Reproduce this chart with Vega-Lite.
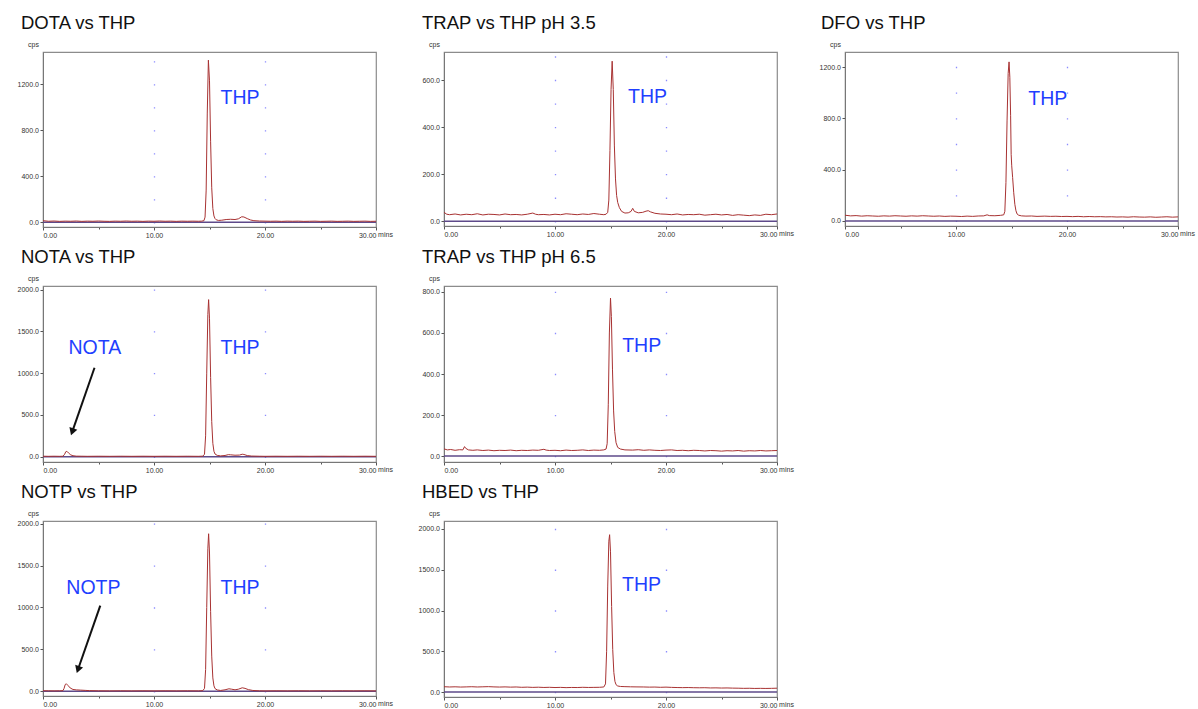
{
  "$schema": "https://vega.github.io/schema/vega-lite/v6.json",
  "autosize": {"type": "pad"},
  "padding": {"left": 16, "top": 12, "right": 5, "bottom": 0},
  "background": "white",
  "config": {
    "font": "Liberation Sans",
    "view": {"stroke": "#8c8c8c", "strokeWidth": 1.2},
    "title": {"font": "Liberation Sans", "fontSize": 18.5, "fontWeight": "normal", "color": "#111111", "anchor": "start", "frame": "group", "dx": -22, "offset": 8},
    "axis": {"labelFont": "Liberation Sans", "labelFontSize": 7, "labelColor": "#333333", "domainColor": "#777777", "tickColor": "#555555", "titleFont": "Liberation Sans", "titleFontSize": 7, "titleFontWeight": "normal", "titleColor": "#333333", "labelOverlap": false, "grid": false},
    "axisX": {"values": [0,1,2,3,4,5,6,7,8,9,10,11,12,13,14,15,16,17,18,19,20,21,22,23,24,25,26,27,28,29,30], "labelExpr": "datum.value % 10 === 0 ? format(datum.value, '.2f') : ''", "labelPadding": 1, "titleX": 342, "titleY": 7, "titleAlign": "center", "titleBaseline": "middle", "gridColor": "#7f7fff", "gridWidth": 1.3},
    "axisY": {"titleAngle": 0, "titleX": -10, "titleY": -8, "titleAlign": "center", "titleBaseline": "middle", "labelPadding": 1.5, "tickSize": 3, "format": ".1f"}
  },
  "datasets": {
    "dota": [
      {"t":0,"cps":14},{"t":0.5,"cps":9},{"t":1,"cps":11},{"t":1.5,"cps":8},{"t":2,"cps":10},{"t":2.5,"cps":9},{"t":3,"cps":11},{"t":3.5,"cps":8},{"t":4,"cps":10},{"t":4.5,"cps":9},{"t":5,"cps":11},{"t":5.5,"cps":9},{"t":6,"cps":8},{"t":6.5,"cps":10},{"t":7,"cps":9},{"t":7.5,"cps":11},{"t":8,"cps":9},{"t":8.5,"cps":10},{"t":9,"cps":8},{"t":9.5,"cps":10},{"t":10,"cps":9},{"t":10.5,"cps":11},{"t":11,"cps":9},{"t":11.5,"cps":10},{"t":12,"cps":8},{"t":12.5,"cps":10},{"t":13,"cps":9},{"t":13.5,"cps":10},{"t":14,"cps":9},{"t":14.3,"cps":10},{"t":14.5,"cps":14},{"t":14.6,"cps":45},{"t":14.7,"cps":280},{"t":14.8,"cps":950},{"t":14.9,"cps":1410},{"t":15.0,"cps":1230},{"t":15.1,"cps":700},{"t":15.2,"cps":300},{"t":15.3,"cps":120},{"t":15.4,"cps":55},{"t":15.5,"cps":32},{"t":15.6,"cps":22},{"t":15.8,"cps":16},{"t":16.1,"cps":18},{"t":16.5,"cps":24},{"t":16.9,"cps":26},{"t":17.3,"cps":24},{"t":17.6,"cps":30},{"t":17.9,"cps":48},{"t":18.1,"cps":46},{"t":18.4,"cps":32},{"t":18.7,"cps":20},{"t":19.0,"cps":14},{"t":19.5,"cps":11},{"t":20,"cps":10},{"t":20.5,"cps":9},{"t":21,"cps":10},{"t":21.5,"cps":8},{"t":22,"cps":10},{"t":22.5,"cps":9},{"t":23,"cps":10},{"t":23.5,"cps":8},{"t":24,"cps":9},{"t":24.5,"cps":10},{"t":25,"cps":8},{"t":25.5,"cps":9},{"t":26,"cps":10},{"t":26.5,"cps":8},{"t":27,"cps":9},{"t":27.5,"cps":10},{"t":28,"cps":8},{"t":28.5,"cps":9},{"t":29,"cps":10},{"t":29.5,"cps":8},{"t":30,"cps":9}
    ],
    "trap35": [
      {"t":0,"cps":38},{"t":0.25,"cps":30},{"t":0.5,"cps":28},{"t":1,"cps":31},{"t":1.5,"cps":27},{"t":2,"cps":30},{"t":2.5,"cps":28},{"t":3,"cps":32},{"t":3.5,"cps":27},{"t":4,"cps":30},{"t":4.5,"cps":29},{"t":5,"cps":27},{"t":5.5,"cps":31},{"t":6,"cps":28},{"t":6.5,"cps":29},{"t":7,"cps":27},{"t":7.5,"cps":30},{"t":8,"cps":35},{"t":8.25,"cps":30},{"t":8.5,"cps":28},{"t":9,"cps":29},{"t":9.5,"cps":27},{"t":10,"cps":30},{"t":10.5,"cps":28},{"t":11,"cps":32},{"t":11.5,"cps":30},{"t":12,"cps":28},{"t":12.5,"cps":31},{"t":13,"cps":29},{"t":13.5,"cps":33},{"t":14,"cps":30},{"t":14.4,"cps":28},{"t":14.6,"cps":30},{"t":14.75,"cps":38},{"t":14.85,"cps":90},{"t":14.95,"cps":300},{"t":15.05,"cps":560},{"t":15.15,"cps":680},{"t":15.25,"cps":560},{"t":15.35,"cps":320},{"t":15.45,"cps":180},{"t":15.55,"cps":110},{"t":15.65,"cps":80},{"t":15.8,"cps":58},{"t":16.0,"cps":42},{"t":16.3,"cps":35},{"t":16.6,"cps":36},{"t":16.85,"cps":42},{"t":17.0,"cps":55},{"t":17.15,"cps":42},{"t":17.5,"cps":36},{"t":17.9,"cps":38},{"t":18.2,"cps":43},{"t":18.4,"cps":45},{"t":18.6,"cps":40},{"t":19.0,"cps":34},{"t":19.5,"cps":31},{"t":20,"cps":30},{"t":20.5,"cps":28},{"t":21,"cps":31},{"t":21.5,"cps":27},{"t":22,"cps":29},{"t":22.5,"cps":28},{"t":23,"cps":30},{"t":23.5,"cps":26},{"t":24,"cps":28},{"t":24.5,"cps":30},{"t":25,"cps":27},{"t":25.5,"cps":29},{"t":26,"cps":25},{"t":26.5,"cps":28},{"t":27,"cps":26},{"t":27.5,"cps":24},{"t":28,"cps":27},{"t":28.5,"cps":25},{"t":29,"cps":30},{"t":29.5,"cps":28},{"t":30,"cps":31}
    ],
    "dfo": [
      {"t":0,"cps":45},{"t":0.5,"cps":40},{"t":1,"cps":42},{"t":1.5,"cps":38},{"t":2,"cps":41},{"t":2.5,"cps":39},{"t":3,"cps":37},{"t":3.5,"cps":40},{"t":4,"cps":38},{"t":4.5,"cps":41},{"t":5,"cps":39},{"t":5.5,"cps":37},{"t":6,"cps":40},{"t":6.5,"cps":38},{"t":7,"cps":41},{"t":7.5,"cps":39},{"t":8,"cps":37},{"t":8.5,"cps":39},{"t":9,"cps":36},{"t":9.5,"cps":38},{"t":10,"cps":37},{"t":10.5,"cps":35},{"t":11,"cps":38},{"t":11.5,"cps":36},{"t":12,"cps":39},{"t":12.5,"cps":40},{"t":12.8,"cps":48},{"t":13.0,"cps":42},{"t":13.5,"cps":41},{"t":14.0,"cps":44},{"t":14.3,"cps":48},{"t":14.4,"cps":75},{"t":14.5,"cps":300},{"t":14.6,"cps":780},{"t":14.7,"cps":1150},{"t":14.78,"cps":1240},{"t":14.85,"cps":1120},{"t":14.92,"cps":820},{"t":14.97,"cps":520},{"t":15.02,"cps":430},{"t":15.1,"cps":340},{"t":15.2,"cps":220},{"t":15.3,"cps":130},{"t":15.4,"cps":80},{"t":15.5,"cps":55},{"t":15.65,"cps":45},{"t":15.9,"cps":40},{"t":16.3,"cps":38},{"t":16.8,"cps":39},{"t":17.3,"cps":36},{"t":18,"cps":38},{"t":18.5,"cps":36},{"t":19,"cps":37},{"t":19.5,"cps":35},{"t":20,"cps":36},{"t":20.5,"cps":34},{"t":21,"cps":36},{"t":21.5,"cps":33},{"t":22,"cps":35},{"t":22.5,"cps":33},{"t":23,"cps":34},{"t":23.5,"cps":32},{"t":24,"cps":33},{"t":24.5,"cps":31},{"t":25,"cps":32},{"t":25.5,"cps":30},{"t":26,"cps":33},{"t":26.5,"cps":31},{"t":27,"cps":30},{"t":27.5,"cps":32},{"t":28,"cps":29},{"t":28.5,"cps":31},{"t":29,"cps":33},{"t":29.5,"cps":30},{"t":30,"cps":32}
    ],
    "nota": [
      {"t":0,"cps":6},{"t":0.5,"cps":5},{"t":1,"cps":6},{"t":1.5,"cps":5},{"t":1.8,"cps":6},{"t":1.95,"cps":30},{"t":2.05,"cps":60},{"t":2.15,"cps":65},{"t":2.3,"cps":45},{"t":2.5,"cps":22},{"t":2.7,"cps":12},{"t":3.0,"cps":7},{"t":3.5,"cps":6},{"t":4,"cps":5},{"t":5,"cps":6},{"t":6,"cps":5},{"t":7,"cps":6},{"t":8,"cps":5},{"t":9,"cps":6},{"t":10,"cps":5},{"t":11,"cps":6},{"t":12,"cps":5},{"t":13,"cps":6},{"t":14,"cps":5},{"t":14.4,"cps":7},{"t":14.55,"cps":30},{"t":14.65,"cps":250},{"t":14.75,"cps":1000},{"t":14.85,"cps":1700},{"t":14.92,"cps":1880},{"t":15.0,"cps":1650},{"t":15.1,"cps":950},{"t":15.2,"cps":420},{"t":15.3,"cps":160},{"t":15.4,"cps":65},{"t":15.5,"cps":32},{"t":15.7,"cps":16},{"t":16.0,"cps":10},{"t":16.4,"cps":15},{"t":16.7,"cps":25},{"t":16.9,"cps":23},{"t":17.3,"cps":18},{"t":17.7,"cps":20},{"t":17.95,"cps":30},{"t":18.1,"cps":27},{"t":18.4,"cps":14},{"t":18.8,"cps":8},{"t":19.5,"cps":6},{"t":20,"cps":5},{"t":21,"cps":6},{"t":22,"cps":5},{"t":23,"cps":6},{"t":24,"cps":5},{"t":25,"cps":6},{"t":26,"cps":5},{"t":27,"cps":6},{"t":28,"cps":5},{"t":29,"cps":6},{"t":30,"cps":5}
    ],
    "notp": [
      {"t":0,"cps":7},{"t":0.5,"cps":6},{"t":1,"cps":5},{"t":1.5,"cps":6},{"t":1.8,"cps":8},{"t":1.9,"cps":35},{"t":2.0,"cps":80},{"t":2.1,"cps":90},{"t":2.25,"cps":70},{"t":2.45,"cps":40},{"t":2.7,"cps":22},{"t":3.0,"cps":17},{"t":3.4,"cps":14},{"t":3.8,"cps":11},{"t":4.2,"cps":8},{"t":5,"cps":6},{"t":6,"cps":5},{"t":7,"cps":6},{"t":8,"cps":5},{"t":9,"cps":6},{"t":10,"cps":5},{"t":11,"cps":6},{"t":12,"cps":5},{"t":13,"cps":6},{"t":14,"cps":5},{"t":14.4,"cps":8},{"t":14.55,"cps":35},{"t":14.65,"cps":260},{"t":14.75,"cps":1000},{"t":14.85,"cps":1700},{"t":14.92,"cps":1880},{"t":15.0,"cps":1650},{"t":15.1,"cps":950},{"t":15.2,"cps":420},{"t":15.3,"cps":160},{"t":15.4,"cps":65},{"t":15.5,"cps":32},{"t":15.7,"cps":16},{"t":16.0,"cps":10},{"t":16.4,"cps":18},{"t":16.75,"cps":30},{"t":17.0,"cps":25},{"t":17.3,"cps":18},{"t":17.6,"cps":25},{"t":17.95,"cps":42},{"t":18.2,"cps":35},{"t":18.5,"cps":20},{"t":18.9,"cps":10},{"t":19.5,"cps":6},{"t":20,"cps":5},{"t":21,"cps":6},{"t":22,"cps":5},{"t":23,"cps":6},{"t":24,"cps":5},{"t":25,"cps":6},{"t":26,"cps":5},{"t":27,"cps":6},{"t":28,"cps":5},{"t":29,"cps":6},{"t":30,"cps":5}
    ],
    "trap65": [
      {"t":0,"cps":35},{"t":0.3,"cps":30},{"t":0.6,"cps":32},{"t":1,"cps":28},{"t":1.4,"cps":31},{"t":1.7,"cps":30},{"t":1.85,"cps":46},{"t":1.95,"cps":38},{"t":2.2,"cps":30},{"t":2.6,"cps":28},{"t":3,"cps":30},{"t":3.5,"cps":27},{"t":4,"cps":29},{"t":4.5,"cps":26},{"t":5,"cps":28},{"t":5.5,"cps":27},{"t":6,"cps":29},{"t":6.5,"cps":26},{"t":7,"cps":28},{"t":7.5,"cps":27},{"t":8,"cps":29},{"t":8.5,"cps":28},{"t":9.0,"cps":33},{"t":9.2,"cps":29},{"t":9.5,"cps":27},{"t":10,"cps":28},{"t":10.5,"cps":26},{"t":11,"cps":29},{"t":11.5,"cps":27},{"t":12,"cps":28},{"t":12.5,"cps":30},{"t":13,"cps":27},{"t":13.5,"cps":29},{"t":14,"cps":28},{"t":14.4,"cps":30},{"t":14.6,"cps":34},{"t":14.7,"cps":60},{"t":14.8,"cps":250},{"t":14.9,"cps":600},{"t":15.0,"cps":770},{"t":15.08,"cps":680},{"t":15.18,"cps":420},{"t":15.28,"cps":220},{"t":15.38,"cps":120},{"t":15.5,"cps":65},{"t":15.65,"cps":42},{"t":15.9,"cps":34},{"t":16.3,"cps":30},{"t":17,"cps":29},{"t":17.5,"cps":31},{"t":18,"cps":28},{"t":18.5,"cps":30},{"t":19,"cps":28},{"t":19.5,"cps":27},{"t":20,"cps":29},{"t":20.5,"cps":30},{"t":21,"cps":27},{"t":21.5,"cps":28},{"t":22,"cps":26},{"t":22.5,"cps":28},{"t":23,"cps":27},{"t":23.5,"cps":25},{"t":24,"cps":27},{"t":24.5,"cps":26},{"t":25,"cps":24},{"t":25.5,"cps":26},{"t":26,"cps":25},{"t":26.5,"cps":27},{"t":27,"cps":24},{"t":27.5,"cps":26},{"t":28,"cps":25},{"t":28.5,"cps":27},{"t":29,"cps":25},{"t":29.5,"cps":26},{"t":30,"cps":27}
    ],
    "hbed": [
      {"t":0,"cps":65},{"t":0.5,"cps":62},{"t":1,"cps":64},{"t":1.5,"cps":61},{"t":2,"cps":63},{"t":2.5,"cps":65},{"t":3,"cps":62},{"t":3.5,"cps":64},{"t":4,"cps":66},{"t":4.5,"cps":63},{"t":5,"cps":61},{"t":5.5,"cps":63},{"t":6,"cps":60},{"t":6.5,"cps":62},{"t":7,"cps":58},{"t":7.5,"cps":60},{"t":8,"cps":57},{"t":8.5,"cps":59},{"t":9,"cps":56},{"t":9.5,"cps":58},{"t":10,"cps":55},{"t":10.5,"cps":57},{"t":11,"cps":54},{"t":11.5,"cps":56},{"t":12,"cps":55},{"t":12.5,"cps":58},{"t":13,"cps":56},{"t":13.5,"cps":57},{"t":14,"cps":58},{"t":14.4,"cps":62},{"t":14.55,"cps":100},{"t":14.65,"cps":500},{"t":14.75,"cps":1300},{"t":14.85,"cps":1850},{"t":14.92,"cps":1930},{"t":15.0,"cps":1720},{"t":15.1,"cps":1050},{"t":15.2,"cps":520},{"t":15.3,"cps":240},{"t":15.4,"cps":130},{"t":15.5,"cps":90},{"t":15.65,"cps":74},{"t":15.9,"cps":68},{"t":16.3,"cps":66},{"t":16.8,"cps":64},{"t":17.3,"cps":63},{"t":18,"cps":62},{"t":18.5,"cps":60},{"t":19,"cps":61},{"t":19.5,"cps":58},{"t":20,"cps":60},{"t":20.5,"cps":57},{"t":21,"cps":55},{"t":21.5,"cps":54},{"t":22,"cps":55},{"t":22.5,"cps":53},{"t":23,"cps":52},{"t":23.5,"cps":53},{"t":24,"cps":50},{"t":24.5,"cps":51},{"t":25,"cps":49},{"t":25.5,"cps":50},{"t":26,"cps":48},{"t":26.5,"cps":47},{"t":27,"cps":45},{"t":27.5,"cps":46},{"t":28,"cps":44},{"t":28.5,"cps":45},{"t":29,"cps":44},{"t":29.5,"cps":45},{"t":30,"cps":47}
    ]
  },
  "columns": 3,
  "spacing": {"row": 59, "column": 68},
  "bounds": "flush",
  "concat": [
    {
      "width": 333, "height": 175,
      "title": {"text": "DOTA vs THP"},
      "layer": [
        {"data": {"values": [{"cps": 0}]}, "mark": {"type": "rule", "color": "#5e4a8a", "strokeWidth": 1.5}, "encoding": {"y": {"field": "cps", "type": "quantitative"}}},
        {"data": {"name": "dota"}, "mark": {"type": "line", "color": "#a83232", "strokeWidth": 1},
         "encoding": {
           "x": {"field": "t", "type": "quantitative", "title": "mins", "scale": {"domain": [0, 30], "nice": false, "zero": false},
                 "axis": {"tickSize": {"condition": {"test": "datum.value % 10 === 0", "value": 3}, "value": 2}, "grid": true, "gridDash": [1.3, 21.7], "gridDashOffset": 14.33, "gridOpacity": {"condition": {"test": "datum.value === 10 || datum.value === 20", "value": 0.9}, "value": 0}}},
           "y": {"field": "cps", "type": "quantitative", "title": "cps", "scale": {"domain": [-41, 1481], "nice": false, "zero": false},
                 "axis": {"values": [0,200,400,600,800,1000,1200,1400]}}
         }},
        {"data": {"values": [{"t": 16.0, "cps": 1080, "label": "THP"}]}, "mark": {"type": "text", "align": "left", "baseline": "middle", "fontSize": 19.5, "color": "#1f3fff", "font": "Liberation Sans"},
         "encoding": {"x": {"field": "t", "type": "quantitative"}, "y": {"field": "cps", "type": "quantitative"}, "text": {"field": "label"}}}
      ]
    },
    {
      "width": 333, "height": 174,
      "title": {"text": "TRAP vs THP pH 3.5"},
      "layer": [
        {"data": {"values": [{"cps": 0}]}, "mark": {"type": "rule", "color": "#5e4a8a", "strokeWidth": 1.5}, "encoding": {"y": {"field": "cps", "type": "quantitative"}}},
        {"data": {"name": "trap35"}, "mark": {"type": "line", "color": "#a83232", "strokeWidth": 1},
         "encoding": {
           "x": {"field": "t", "type": "quantitative", "title": "mins", "scale": {"domain": [0, 30], "nice": false, "zero": false},
                 "axis": {"tickSize": {"condition": {"test": "datum.value % 10 === 0", "value": 3}, "value": 2}, "grid": true, "gridDash": [1.3, 22.245], "gridDashOffset": 19.72, "gridOpacity": {"condition": {"test": "datum.value === 10 || datum.value === 20", "value": 0.9}, "value": 0}}},
           "y": {"field": "cps", "type": "quantitative", "title": "cps", "scale": {"domain": [-20, 719], "nice": false, "zero": false},
                 "axis": {"values": [0,100,200,300,400,500,600,700]}}
         }},
        {"data": {"values": [{"t": 16.58, "cps": 527, "label": "THP"}]}, "mark": {"type": "text", "align": "left", "baseline": "middle", "fontSize": 19.5, "color": "#1f3fff", "font": "Liberation Sans"},
         "encoding": {"x": {"field": "t", "type": "quantitative"}, "y": {"field": "cps", "type": "quantitative"}, "text": {"field": "label"}}}
      ]
    },
    {
      "width": 333, "height": 174,
      "title": {"text": "DFO vs THP", "dx": -24},
      "layer": [
        {"data": {"values": [{"cps": 0}]}, "mark": {"type": "rule", "color": "#5e4a8a", "strokeWidth": 1.5}, "encoding": {"y": {"field": "cps", "type": "quantitative"}}},
        {"data": {"name": "dfo"}, "mark": {"type": "line", "color": "#a83232", "strokeWidth": 1},
         "encoding": {
           "x": {"field": "t", "type": "quantitative", "title": "mins", "scale": {"domain": [0, 30], "nice": false, "zero": false},
                 "axis": {"tickSize": {"condition": {"test": "datum.value % 10 === 0", "value": 3}, "value": 2}, "grid": true, "gridDash": [1.3, 24.36], "gridDashOffset": 11.30, "gridOpacity": {"condition": {"test": "datum.value === 10 || datum.value === 20", "value": 0.9}, "value": 0}}},
           "y": {"field": "cps", "type": "quantitative", "title": "cps", "scale": {"domain": [-39, 1317], "nice": false, "zero": false},
                 "axis": {"values": [0,200,400,600,800,1000,1200]}}
         }},
        {"data": {"values": [{"t": 16.52, "cps": 947, "label": "THP"}]}, "mark": {"type": "text", "align": "left", "baseline": "middle", "fontSize": 19.5, "color": "#1f3fff", "font": "Liberation Sans"},
         "encoding": {"x": {"field": "t", "type": "quantitative"}, "y": {"field": "cps", "type": "quantitative"}, "text": {"field": "label"}}}
      ]
    },
    {
      "width": 333, "height": 176,
      "title": {"text": "NOTA vs THP"},
      "layer": [
        {"data": {"values": [{"cps": 0}]}, "mark": {"type": "rule", "color": "#5e4a8a", "strokeWidth": 1.5}, "encoding": {"y": {"field": "cps", "type": "quantitative"}}},
        {"data": {"name": "nota"}, "mark": {"type": "line", "color": "#a83232", "strokeWidth": 1},
         "encoding": {
           "x": {"field": "t", "type": "quantitative", "title": "mins", "scale": {"domain": [0, 30], "nice": false, "zero": false},
                 "axis": {"tickSize": {"condition": {"test": "datum.value % 10 === 0", "value": 3}, "value": 2}, "grid": true, "gridDash": [1.3, 40.49], "gridDashOffset": 38.85, "gridOpacity": {"condition": {"test": "datum.value === 10 || datum.value === 20", "value": 0.9}, "value": 0}}},
           "y": {"field": "cps", "type": "quantitative", "title": "cps", "scale": {"domain": [-63, 2043], "nice": false, "zero": false},
                 "axis": {"values": [0,500,1000,1500,2000]}}
         }},
        {"data": {"values": [{"x1": 4.64, "y1": 1065, "x2": 2.63, "y2": 298}]}, "mark": {"type": "rule", "color": "#111111", "strokeWidth": 2},
         "encoding": {"x": {"field": "x1", "type": "quantitative"}, "y": {"field": "y1", "type": "quantitative"}, "x2": {"field": "x2"}, "y2": {"field": "y2"}}},
        {"data": {"values": [{"t": 2.63, "cps": 298}]}, "mark": {"type": "point", "shape": "triangle-up", "filled": true, "color": "#111111", "size": 70, "angle": 199, "opacity": 1},
         "encoding": {"x": {"field": "t", "type": "quantitative"}, "y": {"field": "cps", "type": "quantitative"}}},
        {"data": {"values": [{"t": 16.0, "cps": 1300, "label": "THP"}, {"t": 2.3, "cps": 1300, "label": "NOTA"}]}, "mark": {"type": "text", "align": "left", "baseline": "middle", "fontSize": 19.5, "color": "#1f3fff", "font": "Liberation Sans"},
         "encoding": {"x": {"field": "t", "type": "quantitative"}, "y": {"field": "cps", "type": "quantitative"}, "text": {"field": "label"}}}
      ]
    },
    {
      "width": 333, "height": 176,
      "title": {"text": "TRAP vs THP pH 6.5"},
      "layer": [
        {"data": {"values": [{"cps": 0}]}, "mark": {"type": "rule", "color": "#5e4a8a", "strokeWidth": 1.5}, "encoding": {"y": {"field": "cps", "type": "quantitative"}}},
        {"data": {"name": "trap65"}, "mark": {"type": "line", "color": "#a83232", "strokeWidth": 1},
         "encoding": {
           "x": {"field": "t", "type": "quantitative", "title": "mins", "scale": {"domain": [0, 30], "nice": false, "zero": false},
                 "axis": {"tickSize": {"condition": {"test": "datum.value % 10 === 0", "value": 3}, "value": 2}, "grid": true, "gridDash": [1.3, 39.73], "gridDashOffset": 35.73, "gridOpacity": {"condition": {"test": "datum.value === 10 || datum.value === 20", "value": 0.9}, "value": 0}}},
           "y": {"field": "cps", "type": "quantitative", "title": "cps", "scale": {"domain": [-29, 829], "nice": false, "zero": false},
                 "axis": {"values": [0,200,400,600,800]}}
         }},
        {"data": {"values": [{"t": 16.05, "cps": 537, "label": "THP"}]}, "mark": {"type": "text", "align": "left", "baseline": "middle", "fontSize": 19.5, "color": "#1f3fff", "font": "Liberation Sans"},
         "encoding": {"x": {"field": "t", "type": "quantitative"}, "y": {"field": "cps", "type": "quantitative"}, "text": {"field": "label"}}}
      ]
    },
    {
      "width": 333, "height": 176,
      "view": {"stroke": null},
      "data": {"values": []},
      "mark": {"type": "point", "opacity": 0}
    },
    {
      "width": 333, "height": 175,
      "title": {"text": "NOTP vs THP"},
      "layer": [
        {"data": {"values": [{"cps": 0}]}, "mark": {"type": "rule", "color": "#5e4a8a", "strokeWidth": 1.5}, "encoding": {"y": {"field": "cps", "type": "quantitative"}}},
        {"data": {"name": "notp"}, "mark": {"type": "line", "color": "#a83232", "strokeWidth": 1},
         "encoding": {
           "x": {"field": "t", "type": "quantitative", "title": "mins", "scale": {"domain": [0, 30], "nice": false, "zero": false},
                 "axis": {"tickSize": {"condition": {"test": "datum.value % 10 === 0", "value": 3}, "value": 2}, "grid": true, "gridDash": [1.3, 40.6], "gridDashOffset": 39.87, "gridOpacity": {"condition": {"test": "datum.value === 10 || datum.value === 20", "value": 0.9}, "value": 0}}},
           "y": {"field": "cps", "type": "quantitative", "title": "cps", "scale": {"domain": [-56, 2032], "nice": false, "zero": false},
                 "axis": {"values": [0,500,1000,1500,2000]}}
         }},
        {"data": {"values": [{"x1": 5.16, "y1": 1022, "x2": 3.15, "y2": 260}]}, "mark": {"type": "rule", "color": "#111111", "strokeWidth": 2},
         "encoding": {"x": {"field": "x1", "type": "quantitative"}, "y": {"field": "y1", "type": "quantitative"}, "x2": {"field": "x2"}, "y2": {"field": "y2"}}},
        {"data": {"values": [{"t": 3.15, "cps": 260}]}, "mark": {"type": "point", "shape": "triangle-up", "filled": true, "color": "#111111", "size": 70, "angle": 199, "opacity": 1},
         "encoding": {"x": {"field": "t", "type": "quantitative"}, "y": {"field": "cps", "type": "quantitative"}}},
        {"data": {"values": [{"t": 16.0, "cps": 1230, "label": "THP"}, {"t": 2.1, "cps": 1230, "label": "NOTP"}]}, "mark": {"type": "text", "align": "left", "baseline": "middle", "fontSize": 19.5, "color": "#1f3fff", "font": "Liberation Sans"},
         "encoding": {"x": {"field": "t", "type": "quantitative"}, "y": {"field": "cps", "type": "quantitative"}, "text": {"field": "label"}}}
      ]
    },
    {
      "width": 333, "height": 176,
      "title": {"text": "HBED vs THP"},
      "layer": [
        {"data": {"values": [{"cps": 0}]}, "mark": {"type": "rule", "color": "#5e4a8a", "strokeWidth": 1.5}, "encoding": {"y": {"field": "cps", "type": "quantitative"}}},
        {"data": {"name": "hbed"}, "mark": {"type": "line", "color": "#a83232", "strokeWidth": 1},
         "encoding": {
           "x": {"field": "t", "type": "quantitative", "title": "mins", "scale": {"domain": [0, 30], "nice": false, "zero": false},
                 "axis": {"tickSize": {"condition": {"test": "datum.value % 10 === 0", "value": 3}, "value": 2}, "grid": true, "gridDash": [1.3, 39.46], "gridDashOffset": 33.42, "gridOpacity": {"condition": {"test": "datum.value === 10 || datum.value === 20", "value": 0.9}, "value": 0}}},
           "y": {"field": "cps", "type": "quantitative", "title": "cps", "scale": {"domain": [-61, 2098], "nice": false, "zero": false},
                 "axis": {"values": [0,500,1000,1500,2000]}}
         }},
        {"data": {"values": [{"t": 16.04, "cps": 1309, "label": "THP"}]}, "mark": {"type": "text", "align": "left", "baseline": "middle", "fontSize": 19.5, "color": "#1f3fff", "font": "Liberation Sans"},
         "encoding": {"x": {"field": "t", "type": "quantitative"}, "y": {"field": "cps", "type": "quantitative"}, "text": {"field": "label"}}}
      ]
    }
  ]
}
